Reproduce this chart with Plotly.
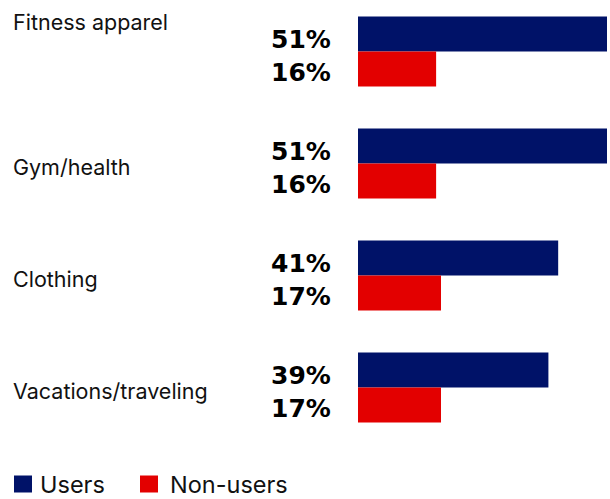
import plotly.graph_objects as go

# Share of respondents spending in each category
categories = ["Fitness apparel", "Gym/health", "Clothing", "Vacations/traveling"]
users = [51, 51, 41, 39]
non_users = [16, 16, 17, 17]
series_names = ["Users", "Non-users"]

NAVY = "#001268"
RED = "#e30000"
W, H = 610, 499
LEFT = 358          # where the bars start (px)
STEP = 112.0        # px per category row
FIRST = 51.5        # px centre of the first row
LEG_Y = 484         # px centre of the legend row

fig = go.Figure()
fig.add_trace(go.Bar(y=categories, x=users, orientation="h", name=series_names[0],
                     marker=dict(color=NAVY, line_width=0), showlegend=False))
fig.add_trace(go.Bar(y=categories, x=non_users, orientation="h", name=series_names[1],
                     marker=dict(color=RED, line_width=0), showlegend=False))

annotations = []
shapes = []
label_font = dict(family="DejaVu Sans", size=25, color="#000000")
for i, cat in enumerate(categories):
    # category names on the left
    annotations.append(dict(
        x=11 / W, xref="paper", y=cat, yref="y", xanchor="left",
        yanchor="middle", text=cat, showarrow=False,
        yshift=30 if i == 0 else -3,
        font=dict(family="Inter", size=21.5, color="#111111")))
    # value labels, users above non-users
    for val, shift in [(users[i], 12), (non_users[i], -21)]:
        annotations.append(dict(
            x=269 / W, xref="paper", y=cat, yref="y", xanchor="left",
            yanchor="middle", text=f"<b>{val}%</b>", showarrow=False,
            yshift=shift, font=label_font))

# legend drawn as swatches + labels along the bottom
legend_items = [(series_names[0], NAVY, 14, 38), (series_names[1], RED, 140, 168)]
for name, col, sx, tx in legend_items:
    shapes.append(dict(type="rect", xref="paper", yref="paper",
                       x0=sx / W, x1=(sx + 18) / W,
                       y0=1 - (LEG_Y + 8.5) / H, y1=1 - (LEG_Y - 8.5) / H,
                       fillcolor=col, line_width=0))
    annotations.append(dict(x=tx / W, xref="paper", y=1 - LEG_Y / H, yref="paper",
                            xanchor="left", yanchor="middle", text=name,
                            showarrow=False,
                            font=dict(family="Inter", size=23.5, color="#111111")))

fig.update_layout(
    width=W, height=H,
    margin=dict(l=0, r=0, t=0, b=0, pad=0),
    paper_bgcolor="white", plot_bgcolor="white",
    barmode="group", bargap=0.375, bargroupgap=0,
    showlegend=False,
    xaxis=dict(domain=[LEFT / W, 1], range=[0, 51 * 252 / 249],
               visible=False, fixedrange=True),
    yaxis=dict(range=[(H - FIRST) / STEP, -FIRST / STEP], visible=False,
               categoryorder="array", categoryarray=categories),
    annotations=annotations,
    shapes=shapes,
)

fig.write_html("out.html")
